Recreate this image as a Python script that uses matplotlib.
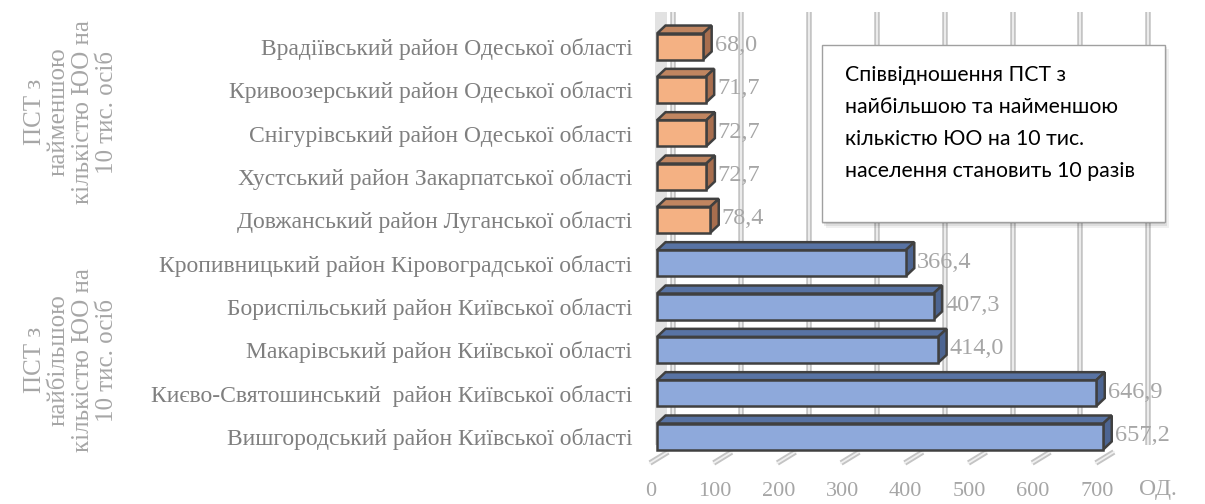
import matplotlib
matplotlib.use("Agg")
import matplotlib.pyplot as plt
from matplotlib.patches import Polygon, Rectangle

# data (top to bottom as in the chart)
districts = [
    "Врадіївський район Одеської області",
    "Кривоозерський район Одеської області",
    "Снігурівський район Одеської області",
    "Хустський район Закарпатської області",
    "Довжанський район Луганської області",
    "Кропивницький район Кіровоградської області",
    "Бориспільський район Київської області",
    "Макарівський район Київської області",
    "Києво-Святошинський  район Київської області",
    "Вишгородський район Київської області",
]
values = [68.0, 71.7, 72.7, 72.7, 78.4, 366.4, 407.3, 414.0, 646.9, 657.2]
group = ["low", "low", "low", "low", "low", "high", "high", "high", "high", "high"]
x_ticks = [0, 100, 200, 300, 400, 500, 600, 700]
group_labels = ["ПСТ з\nнайменшою\nкількістю ЮО на\n10 тис. осіб",
                "ПСТ з\nнайбільшою\nкількістю ЮО на\n10 тис. осіб"]
note = ("Співвідношення ПСТ з\nнайбільшою та найменшою\n"
        "кількістю ЮО на 10 тис.\nнаселення становить 10 разів")

colors = {
    "low": ("#F4B183", "#C08560", "#A86E4E"),   # front, top, side
    "high": ("#8EA9DB", "#5873A4", "#4D6592"),
}

W, H = 1205, 504
fig = plt.figure(figsize=(W / 100, H / 100), dpi=100)

# axes placed so that 0 -> x=657px, 0.679 px per unit
sc = 0.679
xmin, xmax = -20, 760
ax_left = 657 + xmin * sc
ax_w = (xmax - xmin) * sc
ax_top, ax_bot = 5, 470
ymax = (436.5 - ax_top) / 43.33
ymin = -(ax_bot - 436.5) / 43.33
ax = fig.add_axes([ax_left / W, (H - ax_bot) / H, ax_w / W, (ax_bot - ax_top) / H])
ax.set_xlim(xmin, xmax)
ax.set_ylim(ymin, ymax)
ax.set_autoscale_on(False)
for s in ax.spines.values():
    s.set_visible(False)

px_x = 1 / sc
px_y = 1 / 43.33
dx, dy = 8.5 * px_x, 8 * px_y
back = 16 * px_x
bh = 26 * px_y

serif = "Liberation Serif"
gray_txt = "#7F7F7F"
light_txt = "#A6A6A6"

# back wall gridlines and floor lines
grid_top = ymax - 7 * px_y
floor_y = ymin + 25 * px_y
gx = [v + back for v in x_ticks]
ax.vlines(gx, floor_y, grid_top, colors="#C4C4C4", lw=4, zorder=1)
ax.vlines(gx, floor_y, grid_top, colors="#F0F0F0", lw=1.3, zorder=1.1)
ax.add_patch(Rectangle((-2 * px_x, floor_y), 12 * px_x, grid_top - floor_y,
                       fc="#E2E2E2", ec="none", zorder=0.8))
for v in x_ticks:
    lx = -8.8 + 0.938 * v
    seg_x = [lx - 1 * px_x, lx + 17 * px_x]
    seg_y = [ymin + 7 * px_y, ymin + 18 * px_y]
    ax.plot(seg_x, seg_y, color="#C4C4C4", lw=4, zorder=1, solid_capstyle="butt")
    ax.plot(seg_x, seg_y, color="#F0F0F0", lw=1.3, zorder=1.1)
    ax.text(lx, ymin - 12 * px_y, str(v), ha="center", va="top", fontsize=16,
            family=serif, color=light_txt, clip_on=False)

ypos = list(range(len(values)))[::-1]
for y, v, g in zip(ypos, values, group):
    front, top, side = colors[g]
    y0, y1 = y - bh / 2, y + bh / 2
    ax.add_patch(Polygon([(0, y1), (v, y1), (v + dx, y1 + dy), (dx, y1 + dy)],
                         closed=True, fc=top, ec="#404040", lw=1.8, zorder=3))
    ax.add_patch(Polygon([(v, y0), (v + dx, y0 + dy), (v + dx, y1 + dy), (v, y1)],
                         closed=True, fc=side, ec="#404040", lw=1.8, zorder=3))
    ax.barh(y, v, height=bh, color=front, edgecolor="#404040", linewidth=1.8, zorder=4)
    ax.text(v + dx + 3 * px_x, y + 1 * px_y, f"{v:.1f}".replace(".", ","), ha="left",
            va="center", fontsize=17.5, family=serif, color=light_txt, zorder=5)

ax.set_yticks(ypos)
ax.set_yticklabels(districts, fontsize=17, family=serif, color=gray_txt)
ax.tick_params(axis="y", length=0, pad=8)
ax.set_xticks([])

fig.text(1158 / W, 1 - 490 / H, "ОД.", ha="center", va="center", fontsize=17,
         family=serif, color=light_txt)

# group labels on the left
fig.text(71 / W, 1 - 112 / H, group_labels[0], rotation=90, ha="center", va="center",
         multialignment="center", fontsize=18, family=serif, color=light_txt, linespacing=1.12)
fig.text(71 / W, 1 - 360 / H, group_labels[1], rotation=90, ha="center", va="center",
         multialignment="center", fontsize=18, family=serif, color=light_txt, linespacing=1.12)

# note box with shadow
bx, by, bw, bhh = 822, 45, 343, 177
for i, a in enumerate([0.06, 0.08, 0.10]):
    off = 6 - i * 2
    fig.add_artist(Rectangle(((bx + off - 2) / W, 1 - (by + bhh + off) / H), bw / W,
                             (bhh + 2) / H, transform=fig.transFigure, fc="black",
                             alpha=a, ec="none", zorder=8))
fig.add_artist(Rectangle((bx / W, 1 - (by + bhh) / H), bw / W, bhh / H,
                         transform=fig.transFigure, fc="white", ec="#A0A0A0", lw=1, zorder=9))
fig.text(845 / W, 1 - 65 / H, note, ha="left", va="top", fontsize=15.3, family="Lato",
         color="black", linespacing=1.74, zorder=10)

fig.savefig("out.png", dpi=100)
